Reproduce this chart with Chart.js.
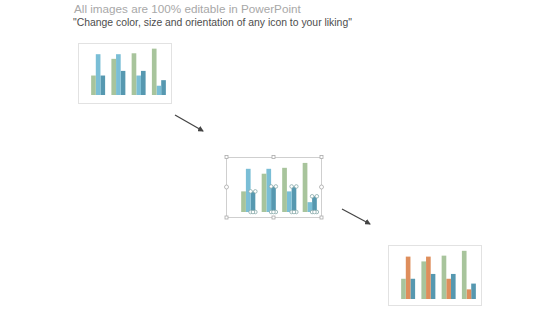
<!DOCTYPE html>
<html>
<head>
<meta charset="utf-8">
<script src="https://cdn.jsdelivr.net/npm/chart.js@4/dist/chart.umd.min.js"></script>
<style>
    body { margin: 0; width: 560px; height: 315px; background: #fff; position: relative; overflow: hidden; font-family: "Liberation Sans", Arial, sans-serif; }
    .title { position: absolute; left: 74px; top: 2.6px; font-size: 11.7px; line-height: 12px; color: #a8a8a8; white-space: nowrap; }
    .subtitle { position: absolute; left: 73px; top: 16.9px; font-size: 10.4px; line-height: 11px; color: #4d4d4d; white-space: nowrap; }
    .box { position: absolute; border: 1px solid #e2e2e2; box-sizing: border-box; }
    .box canvas { position: absolute; left: 0; top: 0; }
    svg.overlay { position: absolute; left: 0; top: 0; }
</style>
</head>
<body>
<div class="title">All images are 100% editable in PowerPoint</div>
<div class="subtitle">"Change color, size and orientation of any icon to your liking"</div>

<div class="box" style="left:78px; top:43px; width:94px; height:61px;"><canvas id="chart1" width="92" height="59"></canvas></div>
<div class="box" style="left:226px; top:157px; width:96px; height:61px; border-color:#cfcfcf;"><canvas id="chart2" width="94" height="59"></canvas></div>
<div class="box" style="left:388px; top:245px; width:94px; height:61px;"><canvas id="chart3" width="92" height="59"></canvas></div>

<svg class="overlay" width="560" height="315">
    <defs>
        <marker id="head" markerWidth="6" markerHeight="6" refX="5" refY="3" orient="auto" markerUnits="userSpaceOnUse">
            <path d="M0,0 L6,3 L0,6 Z" fill="#444"/>
        </marker>
    </defs>
    <line x1="175" y1="115" x2="203" y2="131" stroke="#444" stroke-width="1.2" marker-end="url(#head)"/>
    <line x1="342" y1="209" x2="370" y2="224" stroke="#444" stroke-width="1.2" marker-end="url(#head)"/>
    <g fill="#fff" stroke="#aaa" stroke-width="0.8">
        <circle cx="226.5" cy="187" r="2"/>
        <circle cx="321.5" cy="187" r="2"/>
        <rect x="272" y="155.5" width="3" height="3"/>
        <rect x="272" y="216" width="3" height="3"/>
        <rect x="225" y="155.5" width="3" height="3"/>
        <rect x="320" y="155.5" width="3" height="3"/>
        <rect x="225" y="216" width="3" height="3"/>
        <rect x="320" y="216" width="3" height="3"/>
    </g>
</svg>

<script>
// Chart data
const categories = ['Category 1', 'Category 2', 'Category 3', 'Category 4'];
const series1 = [2.1, 3.9, 4.5, 5.0];
const series2 = [4.4, 4.4, 2.1, 1.0];
const series3 = [2.1, 2.6, 2.6, 1.6];

const green = 'rgb(168, 196, 156)';
const lightBlue = 'rgb(122, 190, 214)';
const teal = 'rgb(86, 152, 176)';
const orange = 'rgb(222, 142, 92)';

// Draws selection handles on the bars of one series
const handlesPlugin = {
    id: 'handles',
    afterDatasetsDraw(chart, args, opts) {
        if (!opts.show) return;
        const ctx = chart.ctx;
        const meta = chart.getDatasetMeta(2);
        ctx.save();
        ctx.fillStyle = '#fff';
        ctx.strokeStyle = '#8aa';
        ctx.lineWidth = 0.8;
        meta.data.forEach(bar => {
            const half = bar.width / 2;
            [[bar.x - half, bar.y], [bar.x + half, bar.y], [bar.x - half, bar.base], [bar.x + half, bar.base], [bar.x, bar.base]].forEach(p => {
                ctx.beginPath();
                ctx.arc(p[0], p[1], 1.8, 0, Math.PI * 2);
                ctx.fill();
                ctx.stroke();
            });
        });
        ctx.restore();
    }
};

function createMiniChart(canvasId, middleColor, padding, showHandles) {
    const ctx = document.getElementById(canvasId);
    if (!ctx) return null;

    return new Chart(ctx, {
        type: 'bar',
        data: {
            labels: categories,
            datasets: [
                { label: 'Series 1', data: series1, backgroundColor: green },
                { label: 'Series 2', data: series2, backgroundColor: middleColor },
                { label: 'Series 3', data: series3, backgroundColor: teal },
            ]
        },
        options: {
            responsive: false,
            animation: false,
            layout: { padding: padding },
            datasets: {
                bar: { categoryPercentage: 0.69, barPercentage: 1, borderWidth: 0 }
            },
            plugins: {
                legend: { display: false },
                tooltip: { enabled: false },
                handles: { show: showHandles }
            },
            scales: {
                x: { display: false },
                y: { display: false, min: 0, max: 5.5 }
            }
        },
        plugins: [handlesPlugin]
    });
}

createMiniChart('chart1', lightBlue, { left: 9, right: 2, top: 0, bottom: 8 }, false);
createMiniChart('chart2', lightBlue, { left: 11, right: 1, top: 0, bottom: 5 }, true);
createMiniChart('chart3', orange, { left: 9, right: 2, top: 0, bottom: 6 }, false);
</script>
</body>
</html>
